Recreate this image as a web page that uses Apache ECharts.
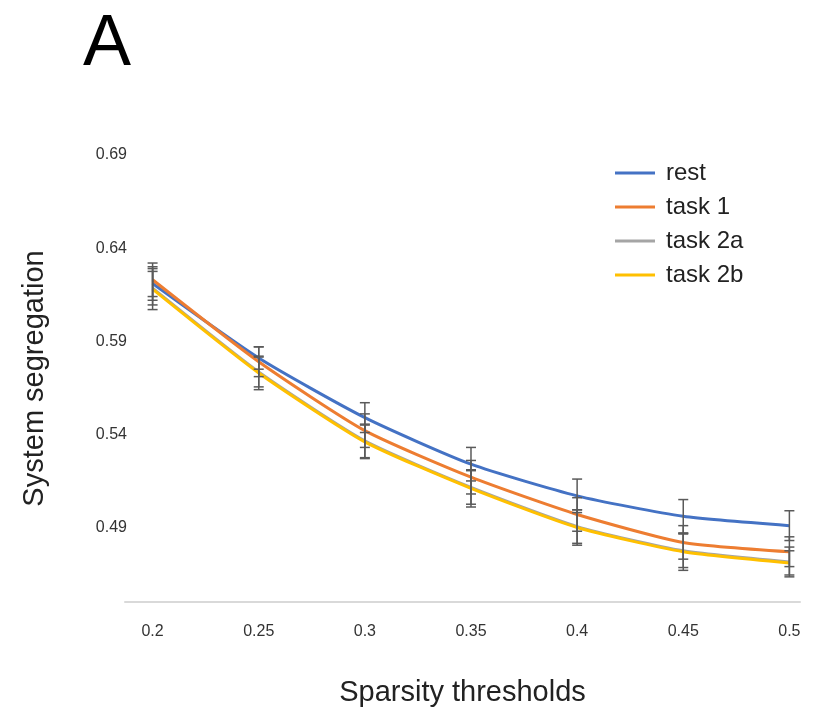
<!DOCTYPE html>
<html>
<head>
<meta charset="utf-8">
<script src="https://cdn.jsdelivr.net/npm/echarts@6/dist/echarts.min.js"></script>
<style>
  html, body { margin: 0; padding: 0; background: #fff; }
  #chart { width: 825px; height: 720px; }
</style>
</head>
<body>
<div id="chart"></div>
<script>
// sparsity thresholds (x)
var thresholds = [0.2, 0.25, 0.3, 0.35, 0.4, 0.45, 0.5]
var yTicks = [0.49, 0.54, 0.59, 0.64, 0.69]

// system segregation per condition
var rest   = [0.621, 0.581, 0.549, 0.524, 0.507, 0.496, 0.491]
var task1  = [0.623, 0.579, 0.542, 0.517, 0.497, 0.482, 0.477]
var task2a = [0.6185, 0.5735, 0.5365, 0.5115, 0.4905, 0.4775, 0.4715]
var task2b = [0.618, 0.573, 0.536, 0.511, 0.490, 0.477, 0.471]

// error bar half widths
var restErr   = [0.009, 0.006, 0.008, 0.009, 0.009, 0.009, 0.008]
var task1Err  = [0.009, 0.008, 0.009, 0.009, 0.009, 0.009, 0.008]
var task2aErr = [0.009, 0.008, 0.009, 0.009, 0.009, 0.009, 0.008]
var task2bErr = [0.011, 0.009, 0.009, 0.010, 0.0095, 0.010, 0.0065]

var names  = ['rest', 'task 1', 'task 2a', 'task 2b']
var colors = ['#4472C4', '#ED7D31', '#A5A5A5', '#FFC000']
var values = [rest, task1, task2a, task2b]
var errors = [restErr, task1Err, task2aErr, task2bErr]

function lineSeries(i) {
    return {
        name: names[i],
        type: 'line',
        smooth: 0.2,
        showSymbol: false,
        z: 2 + i,
        lineStyle: { width: 3, color: colors[i] },
        itemStyle: { color: colors[i] },
        data: values[i].map(function (v, k) { return [thresholds[k], v] })
    }
}

function errorSeries(i) {
    return {
        type: 'custom',
        z: 10,
        silent: true,
        data: values[i].map(function (v, k) {
            return [thresholds[k], v - errors[i][k], v + errors[i][k]]
        }),
        renderItem: function (params, api) {
            var lo = api.coord([api.value(0), api.value(1)])
            var hi = api.coord([api.value(0), api.value(2)])
            var w = 5
            var st = { stroke: '#5a5a5a', lineWidth: 1.5 }
            return {
                type: 'group',
                children: [
                    { type: 'line', shape: { x1: lo[0], y1: lo[1], x2: hi[0], y2: hi[1] }, style: st },
                    { type: 'line', shape: { x1: lo[0] - w, y1: lo[1], x2: lo[0] + w, y2: lo[1] }, style: st },
                    { type: 'line', shape: { x1: hi[0] - w, y1: hi[1], x2: hi[0] + w, y2: hi[1] }, style: st }
                ]
            }
        }
    }
}

var series = []
for (var i = 0; i < names.length; i++) series.push(lineSeries(i))
for (var j = 0; j < names.length; j++) series.push(errorSeries(j))

var chart = echarts.init(document.getElementById('chart'))
chart.setOption({
    animation: false,
    backgroundColor: '#fff',
    textStyle: { fontFamily: 'Liberation Sans, Arial, sans-serif' },
    title: {
        text: 'A',
        left: 78,
        top: 4,
        textStyle: { fontSize: 72, fontWeight: 'normal', color: '#000' }
    },
    legend: {
        orient: 'vertical',
        left: 610,
        top: 156,
        itemGap: 10,
        itemWidth: 40,
        itemHeight: 3,
        icon: 'rect',
        data: names,
        textStyle: { fontSize: 24, color: '#222', padding: [0, 0, 0, 6] }
    },
    grid: { left: 125, right: 25, top: 155, bottom: 118 },
    xAxis: {
        type: 'value',
        min: 0.187,
        max: 0.505,
        name: 'Sparsity thresholds',
        nameLocation: 'middle',
        nameGap: 76,
        nameTextStyle: { fontSize: 29, color: '#222' },
        axisLine: { lineStyle: { color: '#d9d9d9', width: 2 } },
        axisTick: { show: false },
        splitLine: { show: false },
        axisLabel: {
            customValues: thresholds,
            fontSize: 16,
            color: '#333',
            margin: 22
        }
    },
    yAxis: {
        type: 'value',
        min: 0.45,
        max: 0.69,
        name: 'System segregation',
        nameLocation: 'middle',
        nameGap: 76,
        nameTextStyle: { fontSize: 29, color: '#222' },
        axisLine: { show: false },
        axisTick: { show: false },
        splitLine: { show: false },
        axisLabel: {
            customValues: yTicks,
            fontSize: 16,
            color: '#333',
            margin: -2
        }
    },
    series: series
})
</script>
</body>
</html>
